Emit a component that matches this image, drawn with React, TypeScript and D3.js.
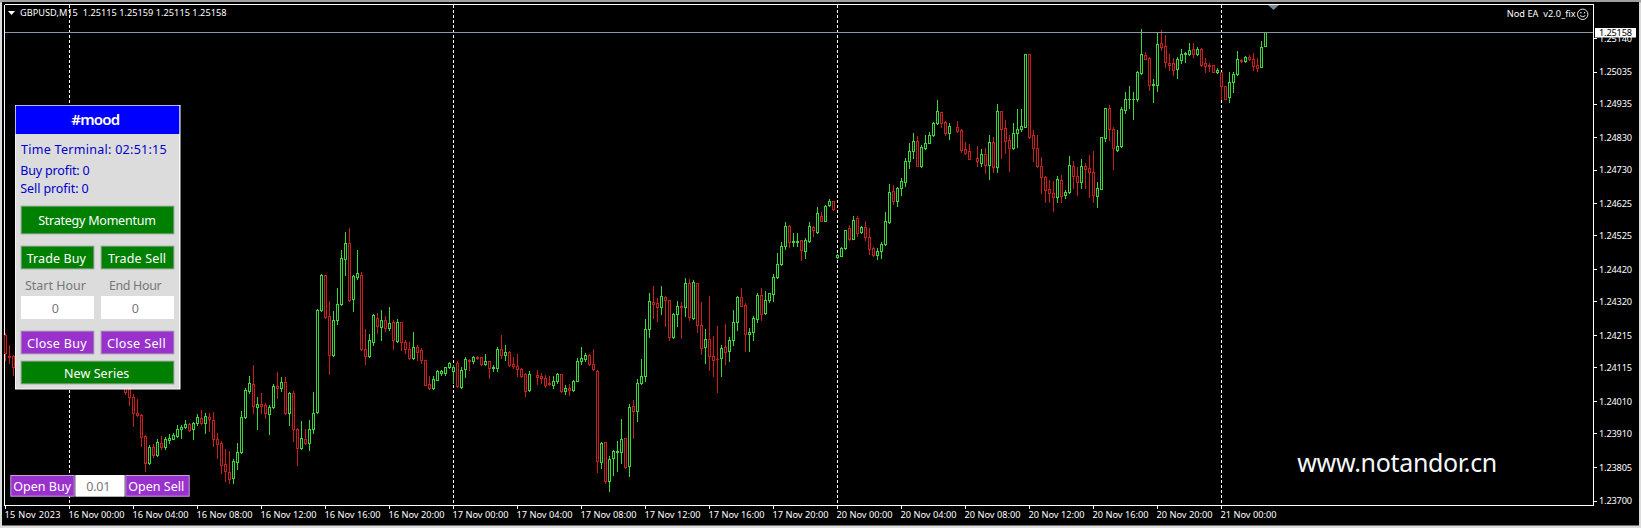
import React from "react";
import * as d3 from "d3";

// Prices are in MT4 points (1e-5). null = bar hidden behind the panel, or absent from the feed.
const hidden = Array(27).fill(null);

const opens: (number | null)[] = [
124216,124150,124150,...hidden,
124051,124046,124023,123973,123966,123901,123816,123865,123842,123878,
123867,123888,123892,123901,123921,123929,123937,123921,123940,123958,
123940,123961,123952,123892,123878,123813,123790,123771,123821,123851,
123960,124040,124064,123991,124001,123996,123968,123991,124056,124049,
124069,123973,124036,123923,123863,123892,123878,123921,123975,124292,
124402,124274,124154,124261,124311,124453,124501,124328,124395,124402,
124170,124151,124193,124268,124241,124262,124238,124254,124197,124256,
124192,124173,124142,124179,124169,124136,124063,124049,124076,124098,
124096,124114,124103,124128,124054,124109,124137,124135,124148,124146,
124125,124133,124112,124113,124172,124153,124162,124124,124120,124109,
124093,124044,null,124091,124086,124082,124065,124060,124071,124093,
124042,124049,124043,124073,124133,124140,124153,124124,124103,123819,
123881,123760,123832,123850,123850,123893,123806,123993,123980,124065,
124086,124233,124319,124314,124301,124332,124323,124209,124280,124304,
124302,124376,124269,124376,124246,124179,124204,124151,124141,124143,
124179,124164,124200,124255,124333,124309,124218,124224,124266,124340,
124283,124324,124343,124395,124435,124493,124555,124504,124506,124510,
124478,124509,124552,124537,124584,124571,124620,124631,124459,124462,
124485,124547,124515,124578,124535,124550,124521,124485,124464,124475,
124498,124568,124663,124633,124674,124692,124755,124789,124818,124742,
124796,124814,124836,124876,124908,124877,124845,null,124861,124853,
124793,124787,null,124765,124751,124777,124744,124815,124739,124911,
124858,124822,124797,124843,124855,124863,125091,124837,124796,124741,
124706,124669,124658,124644,124697,124651,124661,124741,124711,124691,
124741,124734,124721,124648,124670,124828,124920,124856,124792,124803,
124915,124948,124949,124950,125031,125085,125078,124993,124993,125125,
125115,125063,125062,125042,125071,125090,125090,125104,125089,125105,
125060,125054,125054,125034,125032,124989,124957,125003,125027,125072,
125068,125081,125073,125054,125050,125115,
];

const highs: (number | null)[] = [
124221,124185,124152,...hidden,
124051,124046,124030,124015,123968,123903,123872,123875,123890,123901,
123899,123906,123911,123935,123935,123952,123942,123945,123970,123983,
123971,123973,123975,123911,123885,123859,123854,123828,123880,123978,
124051,124089,124123,124023,124033,124004,123997,124063,124101,124085,
124085,124037,124040,123926,123947,123921,123952,124038,124297,124406,
124403,124320,124289,124362,124481,124536,124548,124403,124481,124410,
124235,124217,124281,124282,124292,124273,124302,124262,124264,124257,
124200,124194,124223,124184,124174,124138,124088,124088,124105,124107,
124117,124132,124122,124133,124117,124148,124140,124150,124150,124148,
124157,124135,124122,124177,124216,124185,124164,124148,124157,124112,
124096,124102,null,124105,124096,124091,124086,124088,124096,124094,
124060,124063,124076,124143,124177,124159,124157,124172,124105,123881,
123883,123837,123858,123886,123954,123894,124001,124014,124078,124140,
124265,124347,124366,124330,124368,124335,124324,124285,124321,124319,
124392,124389,124387,124378,124319,124233,124335,124213,124242,124185,
124250,124210,124293,124335,124361,124314,124236,124275,124345,124361,
124353,124347,124404,124469,124506,124566,124557,124534,124532,124511,
124516,124568,124554,124612,124599,124620,124638,124633,124467,124490,
124542,124558,124584,124586,124555,124571,124547,124490,124485,124506,
124597,124684,124682,124677,124703,124765,124812,124843,124834,124806,
124839,124848,124879,124946,124910,124881,124876,null,124881,124855,
124817,124809,null,124804,124793,124796,124837,124830,124934,124912,
124884,124837,124874,124917,124917,125091,125091,124853,124839,124770,
124711,124698,124694,124711,124713,124666,124772,124758,124737,124762,
124749,124775,124788,124692,124832,124922,124931,124863,124853,124925,
124972,124990,124972,125037,125167,125096,125081,125011,125157,125164,
125148,125088,125078,125079,125104,125096,125125,125124,125110,125107,
125076,125060,125055,125045,125034,124990,125032,125032,125098,125073,
125083,125086,125094,125076,125131,125159,
];

const lows: (number | null)[] = [
124138,124128,124091,...hidden,
124030,123998,123932,123963,123870,123792,123813,123836,123838,123861,
123861,123880,123890,123899,123895,123926,123917,123890,123934,123937,
123911,123916,123870,123833,123787,123761,123756,123756,123797,123847,
123958,124035,123973,123924,123973,123956,123906,123989,124020,124040,
123970,123934,123885,123809,123859,123875,123857,123911,123973,124289,
124268,124095,124151,124248,124309,124403,124322,124289,124388,124168,
124126,124147,124185,124220,124200,124226,124231,124170,124194,124168,
124158,124140,124140,124137,124128,124058,124047,124047,124074,124090,
124091,124111,124065,124053,124051,124084,124105,124128,124140,124123,
124122,124080,124102,124102,124143,124138,124119,124112,124088,124084,
124026,124042,null,124063,124065,124052,124060,124049,124065,124037,
124032,124029,124040,124071,124125,124133,124122,124107,123788,123801,
123755,123729,123780,123793,123817,123801,123775,123894,123946,124063,
124071,124210,124267,124259,124281,124242,124198,124206,124244,124206,
124275,124262,124265,124223,124157,124128,124107,124086,124039,124088,
124125,124133,124185,124231,124304,124164,124164,124198,124257,124262,
124281,124319,124322,124392,124433,124482,124490,124493,124493,124449,
124456,124503,124523,124534,124569,124569,124618,124604,124454,124461,
124483,124511,124513,124524,124532,124511,124468,124461,124451,124454,
124496,124563,124623,124615,124651,124680,124736,124765,124740,124739,
124793,124812,124834,124872,124863,124837,124825,null,124848,124785,
124777,124762,null,124742,124741,124720,124701,124723,124723,124765,
124780,124726,124794,124801,124851,124861,124829,124755,124737,124658,
124630,124630,124602,124628,124630,124641,124658,124672,124651,124672,
124672,124646,124628,124612,124669,124820,124822,124731,124789,124799,
124907,124920,124888,124944,125027,125073,124977,124941,124975,125102,
125048,125039,125024,125016,125062,125065,125086,125081,125086,125053,
125034,125037,125032,125031,124951,124948,124941,124972,125024,125066,
125066,125071,125041,125037,125049,125115,
];

const closes: (number | null)[] = [
124159,124146,124117,...hidden,
124037,124023,123973,123966,123897,123818,123866,123841,123882,123865,
123890,123895,123903,123923,123930,123937,123919,123940,123961,123942,
123963,123954,123890,123875,123810,123792,123766,123822,123852,123961,
124044,124066,123994,124001,123994,123971,123992,124056,124051,124069,
123973,124034,123921,123864,123893,123878,123923,123973,124294,124403,
124271,124152,124263,124312,124455,124501,124325,124398,124408,124172,
124149,124201,124276,124242,124262,124236,124252,124200,124256,124194,
124173,124142,124179,124163,124138,124060,124049,124078,124102,124102,
124114,124128,124117,124055,124107,124140,124133,124147,124145,124125,
124133,124111,124116,124173,124153,124162,124122,124120,124109,124086,
124042,124093,null,124084,124082,124060,124061,124073,124093,124042,
124050,124045,124072,124133,124143,124153,124124,124109,123822,123879,
123760,123830,123855,123855,123891,123804,123992,123980,124067,124086,
124233,124322,124312,124301,124335,124323,124208,124281,124306,124302,
124376,124271,124380,124245,124174,124202,124151,124138,124139,124174,
124161,124200,124255,124333,124306,124218,124224,124267,124340,124281,
124324,124345,124395,124435,124493,124554,124506,124507,124509,124480,
124511,124554,124542,124594,124571,124617,124632,124607,124463,124485,
124541,124515,124573,124532,124551,124521,124482,124464,124475,124498,
124569,124659,124633,124672,124694,124755,124789,124818,124742,124799,
124814,124837,124876,124911,124876,124843,124865,null,124851,124791,
124780,124764,null,124756,124777,124744,124815,124739,124911,124855,
124820,124798,124845,124855,124866,125091,124831,124796,124741,124706,
124666,124658,124644,124700,124648,124659,124744,124711,124692,124741,
124733,124721,124651,124672,124830,124920,124856,124796,124804,124919,
124948,124951,124951,125035,125088,125075,124993,124996,125122,125112,
125064,125055,125039,125073,125091,125093,125103,125089,125104,125056,
125053,125051,125034,125040,124990,124951,125003,125027,125073,125068,
125081,125073,125052,125045,125112,125158,
];

const priceTicks = [125140,125035,124935,124830,124730,124625,124525,124420,124320,124215,124115,124010,123910,123805,123700];
const timeLabels = [
  "15 Nov 2023","16 Nov 00:00","16 Nov 04:00","16 Nov 08:00","16 Nov 12:00","16 Nov 16:00","16 Nov 20:00",
  "17 Nov 00:00","17 Nov 04:00","17 Nov 08:00","17 Nov 12:00","17 Nov 16:00","17 Nov 20:00",
  "20 Nov 00:00","20 Nov 04:00","20 Nov 08:00","20 Nov 12:00","20 Nov 16:00","20 Nov 20:00","21 Nov 00:00",
];
const BARS_PER_LABEL = 16;
const separatorBars = [16, 112, 208, 304];
const bidPrice = 125158;
const headerText = "GBPUSD,M15  1.25115 1.25159 1.25115 1.25158";

const W = 1641, H = 528;
const FONT = "'Noto Sans', sans-serif";
const GREEN = "#38d838", RED = "#c81e1e";
const x = d3.scaleLinear().domain([0, 315]).range([5.5, 1265.5]);
const y = d3.scaleLinear().domain([123700, 125158]).range([501, 32.5]);
const py = (v: number) => Math.round(y(v) - 0.5) + 0.5;
const fmt = (v: number) => (v / 1e5).toFixed(5);

type TProps = { x: number; y: number; w?: number; size?: number; fill?: string; anchor?: string; weight?: number; children: React.ReactNode };
const T = ({ x, y, w, size = 12.5, fill = "#fff", anchor = "middle", weight = 400, children }: TProps) => (
  <text x={x} y={y} dy="0.36em" fontFamily={FONT} fontSize={size} fill={fill} textAnchor={anchor} fontWeight={weight}
    textLength={w} lengthAdjust={w ? "spacing" : undefined} xmlSpace="preserve">{children}</text>
);
const Btn = ({ x0, y0, x1, y1, fill, stroke }: { x0: number; y0: number; x1: number; y1: number; fill: string; stroke: string }) => (
  <rect x={x0 + 0.5} y={y0 + 0.5} width={x1 - x0 - 1} height={y1 - y0 - 1} fill={fill} stroke={stroke} />
);

const Candle = ({ i }: { i: number }) => {
  const o = opens[i], h = highs[i], l = lows[i], c = closes[i];
  if (o == null || h == null || l == null || c == null) return null;
  const col = c >= o ? GREEN : RED;
  const cx = x(i);
  const top = py(Math.max(o, c)), bot = py(Math.min(o, c));
  return (
    <g stroke={col} shapeRendering="crispEdges">
      <line x1={cx} x2={cx} y1={py(h) - 0.5} y2={py(l) + 0.5} />
      {bot - top < 1
        ? <line x1={cx - 1.5} x2={cx + 1.5} y1={top} y2={top} />
        : <rect x={cx - 1} y={top} width={2} height={bot - top} fill="#000" />}
    </g>
  );
};

export default function App() {
  return (
    <svg width={W} height={H} viewBox={`0 0 ${W} ${H}`} style={{ position: "absolute", left: 0, top: 0, display: "block" }}>
      <rect width={W} height={H} fill="#dcdcdc" />
      <rect width={W} height={2.5} fill="#a0a0a0" />
      <rect x={2} y={2} width={1637} height={523.5} fill="#000" />

      {/* frame */}
      <g stroke="#fff" shapeRendering="crispEdges">
        <line x1={4.5} x2={1593.5} y1={4.5} y2={4.5} />
        <line x1={4.5} x2={4.5} y1={4.5} y2={505.5} />
        <line x1={4.5} x2={1593.5} y1={505.5} y2={505.5} />
        <line x1={1593.5} x2={1593.5} y1={4.5} y2={505.5} />
      </g>

      {/* period separators */}
      {separatorBars.map(b => (
        <line key={b} x1={x(b)} x2={x(b)} y1={5} y2={505} stroke="#fff" strokeDasharray="3 2" shapeRendering="crispEdges" />
      ))}

      {d3.range(opens.length).map(i => <Candle key={i} i={i} />)}

      {/* bid line */}
      <line x1={5} x2={1593} y1={py(bidPrice)} y2={py(bidPrice)} stroke="#8a97a5" shapeRendering="crispEdges" />
      <path d="M1268 5 h11 l-5.5 5 z" fill="#778899" />

      {/* price axis */}
      {priceTicks.map(p => (
        <g key={p}>
          <line x1={1594} x2={1597} y1={py(p)} y2={py(p)} stroke="#fff" shapeRendering="crispEdges" />
          <T x={1599} y={y(p)} anchor="start" size={9.2} w={33}>{fmt(p)}</T>
        </g>
      ))}
      <rect x={1595} y={28} width={41} height={9.5} fill="#fff" />
      <T x={1599} y={32.6} anchor="start" size={9.2} w={33} fill="#000">{fmt(bidPrice)}</T>

      {/* time axis */}
      {timeLabels.map((t, k) => {
        const tx = x(k * BARS_PER_LABEL);
        return (
          <g key={t}>
            <line x1={tx} x2={tx} y1={505} y2={509} stroke="#fff" shapeRendering="crispEdges" />
            <T x={k === 0 ? 4.5 : tx - 1} y={514.5} anchor="start" size={9.2} w={56}>{t}</T>
          </g>
        );
      })}

      {/* header */}
      <path d="M8 11 h7 l-3.5 4 z" fill="#fff" />
      <T x={20} y={12.6} anchor="start" size={9.2} w={206.5}>{headerText}</T>
      <T x={1506.7} y={14} anchor="start" size={9.2} w={69}>Nod EA  v2.0_fix</T>
      <g fill="none" stroke="#fff" strokeWidth={0.9}>
        <circle cx={1582.7} cy={14.3} r={5.2} />
        <path d="M1580 15.6 q2.7 2.4 5.4 0" />
      </g>
      <circle cx={1580.9} cy={12.8} r={0.7} fill="#fff" />
      <circle cx={1584.5} cy={12.8} r={0.7} fill="#fff" />

      {/* watermark */}
      <T x={1297.3} y={463} anchor="start" size={25} w={200} fill="#f4f8fc">www.notandor.cn</T>

      {/* panel */}
      <rect x={15} y={105} width={165.5} height={284.5} fill="#fff" />
      <rect x={15.7} y={134} width={163.6} height={254.6} fill="#dcdcdc" />
      <rect x={15.7} y={105.7} width={163.6} height={28.3} fill="#0000ff" />
      <T x={95.7} y={120} size={15} weight={600} w={49}>#mood</T>
      <T x={21} y={149.3} anchor="start" fill="#0000cd" w={145.7}>Time Terminal: 02:51:15</T>
      <T x={20.3} y={170.3} anchor="start" fill="#0000cd" w={69.4}>Buy profit: 0</T>
      <T x={20.3} y={188.3} anchor="start" fill="#0000cd" w={68.4}>Sell profit: 0</T>

      <Btn x0={20.7} y0={205.7} x1={174.3} y1={234.3} fill="#008000" stroke="#7d9a7d" />
      <T x={97} y={220.3} w={117.7}>Strategy Momentum</T>

      <Btn x0={20.7} y0={245.7} x1={94.3} y1={269.3} fill="#008000" stroke="#7d9a7d" />
      <T x={56.3} y={258.3} w={59.3}>Trade Buy</T>
      <Btn x0={100.7} y0={245.7} x1={174.3} y1={269.3} fill="#008000" stroke="#7d9a7d" />
      <T x={137} y={258.3} w={58}>Trade Sell</T>

      <T x={55.5} y={285.3} fill="#777" w={61}>Start Hour</T>
      <T x={135.3} y={285.3} fill="#777" w={52.7}>End Hour</T>
      <rect x={21} y={296} width={73} height={23} fill="#fff" />
      <rect x={101} y={296} width={73} height={23} fill="#fff" />
      <T x={55.3} y={308.3} fill="#777">0</T>
      <T x={135.3} y={308.3} fill="#777">0</T>

      <Btn x0={20.7} y0={330.7} x1={94.3} y1={354.3} fill="#9932cc" stroke="#a085b0" />
      <T x={56.8} y={343.3} w={59.7}>Close Buy</T>
      <Btn x0={100.7} y0={330.7} x1={174.3} y1={354.3} fill="#9932cc" stroke="#a085b0" />
      <T x={136.3} y={343.3} w={58.7}>Close Sell</T>

      <Btn x0={20.7} y0={360.7} x1={174.3} y1={384.3} fill="#008000" stroke="#7d9a7d" />
      <T x={96.7} y={373.3} w={65.3}>New Series</T>

      {/* bottom order buttons */}
      <Btn x0={10.3} y0={475} x1={74.7} y1={496.7} fill="#9932cc" stroke="#c9a0dc" />
      <T x={42.2} y={486} w={57.7}>Open Buy</T>
      <rect x={75.3} y={475} width={49.4} height={21.7} fill="#fff" />
      <T x={98.3} y={486} fill="#777" w={24}>0.01</T>
      <Btn x0={125.3} y0={475} x1={189.7} y1={496.7} fill="#9932cc" stroke="#c9a0dc" />
      <T x={156.3} y={486} w={56}>Open Sell</T>
    </svg>
  );
}
